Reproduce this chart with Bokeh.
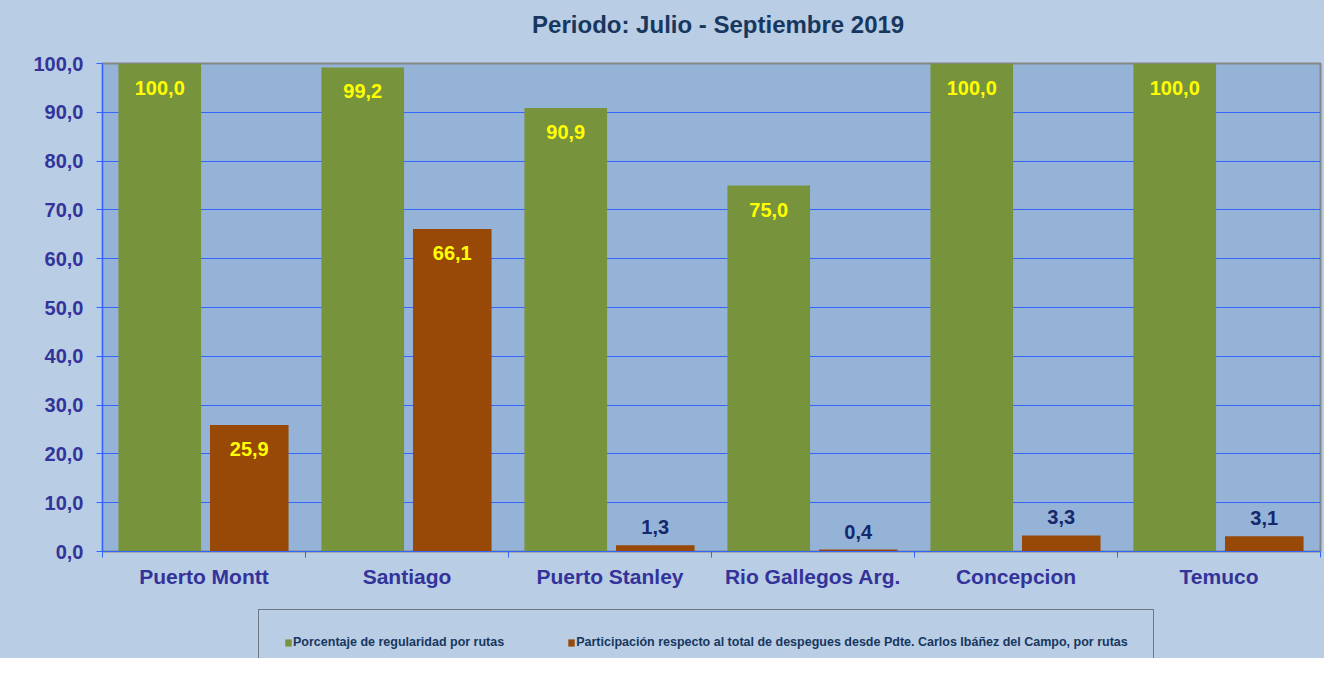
from bokeh.plotting import figure
from bokeh.layouts import column
from bokeh.models import Range1d, FixedTicker, Legend, LegendItem, ColumnDataSource, Label
from bokeh.transform import dodge
from bokeh.core.properties import value
from bokeh.embed import file_html
from bokeh.resources import INLINE

# ---- data ----
categories = ["Puerto Montt", "Santiago", "Puerto Stanley", "Rio Gallegos Arg.", "Concepcion", "Temuco"]
regularidad = [100.0, 99.2, 90.9, 75.0, 100.0, 100.0]
participacion = [25.9, 66.1, 1.3, 0.4, 3.3, 3.1]
series_names = ["Porcentaje de regularidad por rutas",
                "Participación respecto al total de despegues desde Pdte. Carlos Ibáñez del Campo, por rutas"]
y_ticks = [0, 10, 20, 30, 40, 50, 60, 70, 80, 90, 100]
title_text = "Periodo: Julio - Septiembre  2019"

FONT = "Liberation Sans"
GREEN = "#77933c"
ORANGE = "#984807"
BLUE = "#3366ff"
AXTXT = "#333399"
OUTER = "#b9cde5"
W = 1324


def fmt(v):
    return f"{v:.1f}".replace(".", ",")


xi = [i + 0.5 for i in range(len(categories))]


def make_source(vals):
    inside = [v > 10 for v in vals]
    return ColumnDataSource(dict(
        xi=xi, val=vals, lbl=[fmt(v) for v in vals],
        col=["#ffff00" if f else "#14286e" for f in inside],
        yoff=[24 if f else -18 for f in inside],
    ))


src_g = make_source(regularidad)
src_o = make_source(participacion)


def strip(height):
    f = figure(width=W, height=height, x_range=Range1d(-101, -100), y_range=Range1d(200, 201),
               output_backend="svg", toolbar_location=None,
               x_axis_location=None, y_axis_location=None,
               min_border_left=0, min_border_right=0, min_border_top=0, min_border_bottom=0,
               background_fill_color=None, border_fill_color=OUTER, outline_line_color=None)
    f.grid.visible = False
    return f


# ---- title strip ----
tf = strip(40)
tf.add_layout(Label(x=619, y=16, x_units="screen", y_units="screen", text=title_text,
                    text_align="center", text_baseline="middle", text_font=FONT,
                    text_font_size="24px", text_font_style="bold", text_color="#17375e"))

# ---- main chart ----
p = figure(width=W, height=550, x_range=Range1d(0, 6), y_range=Range1d(0, 100),
           output_backend="svg", toolbar_location=None,
           min_border_left=102, min_border_right=4, min_border_top=23, min_border_bottom=39,
           background_fill_color="#95b3d7", border_fill_color=OUTER,
           outline_line_color="#868686", outline_line_width=2)

p.vbar(x=dodge("xi", -0.218, range=p.x_range), top="val", width=0.407, source=src_g,
       fill_color=GREEN, line_color=None)
p.vbar(x=dodge("xi", 0.223, range=p.x_range), top="val", width=0.387, source=src_o,
       fill_color=ORANGE, line_color=None)

for src, off in ((src_g, -0.218), (src_o, 0.223)):
    p.text(x=dodge("xi", off, range=p.x_range), y="val", text="lbl", source=src,
           text_color="col", y_offset="yoff", text_align="center", text_baseline="middle",
           text_font=value(FONT), text_font_size="20px", text_font_style="bold")

# grid
p.xgrid.visible = False
p.ygrid.grid_line_color = BLUE
p.ygrid.grid_line_width = 1
p.ygrid.ticker = FixedTicker(ticks=y_ticks)

# y axis
ya = p.yaxis[0]
ya.ticker = FixedTicker(ticks=y_ticks)
ya.major_label_overrides = {t: fmt(t) for t in y_ticks}
ya.axis_line_color = BLUE
ya.major_tick_line_color = BLUE
ya.major_tick_out = 6
ya.major_tick_in = 0
ya.minor_tick_line_color = None
ya.major_label_standoff = 13
ya.major_label_text_font = FONT
ya.major_label_text_font_size = "20px"
ya.major_label_text_font_style = "bold"
ya.major_label_text_color = AXTXT

# x axis: labels at centers, ticks at category boundaries
xa = p.xaxis[0]
xa.ticker = FixedTicker(ticks=xi, minor_ticks=list(range(len(categories) + 1)))
xa.major_label_overrides = {x: c for x, c in zip(xi, categories)}
xa.axis_line_color = BLUE
xa.major_tick_line_color = None
xa.major_tick_out = 0
xa.major_tick_in = 0
xa.minor_tick_line_color = BLUE
xa.minor_tick_out = 6
xa.minor_tick_in = 0
xa.major_label_standoff = 7
xa.major_label_text_font = FONT
xa.major_label_text_font_size = "21px"
xa.major_label_text_font_style = "bold"
xa.major_label_text_color = AXTXT

# ---- legend strip below the chart (proxy bars have zero width, outside view) ----
lf = strip(68)
lg = lf.vbar(x="xi", top="val", width=0, source=src_g, fill_color=GREEN, line_color=None)
lo = lf.vbar(x="xi", top="val", width=0, source=src_o, fill_color=ORANGE, line_color=None)

legend = Legend(items=[LegendItem(label=series_names[0], renderers=[lg]),
                       LegendItem(label=series_names[1], renderers=[lo])],
                orientation="horizontal", location=(156, -17),
                padding=25, spacing=63, glyph_width=8, glyph_height=9,
                label_standoff=1, label_height=12, margin=0,
                label_text_font=FONT, label_text_font_size="12.5px",
                label_text_font_style="bold", label_text_color="#17375e",
                border_line_color="#262626", border_line_width=1,
                background_fill_color=OUTER, background_fill_alpha=1)
lf.add_layout(legend)

layout = column(tf, p, lf, spacing=0, styles={"background-color": OUTER})
open("out.html", "w").write(file_html(layout, INLINE))
